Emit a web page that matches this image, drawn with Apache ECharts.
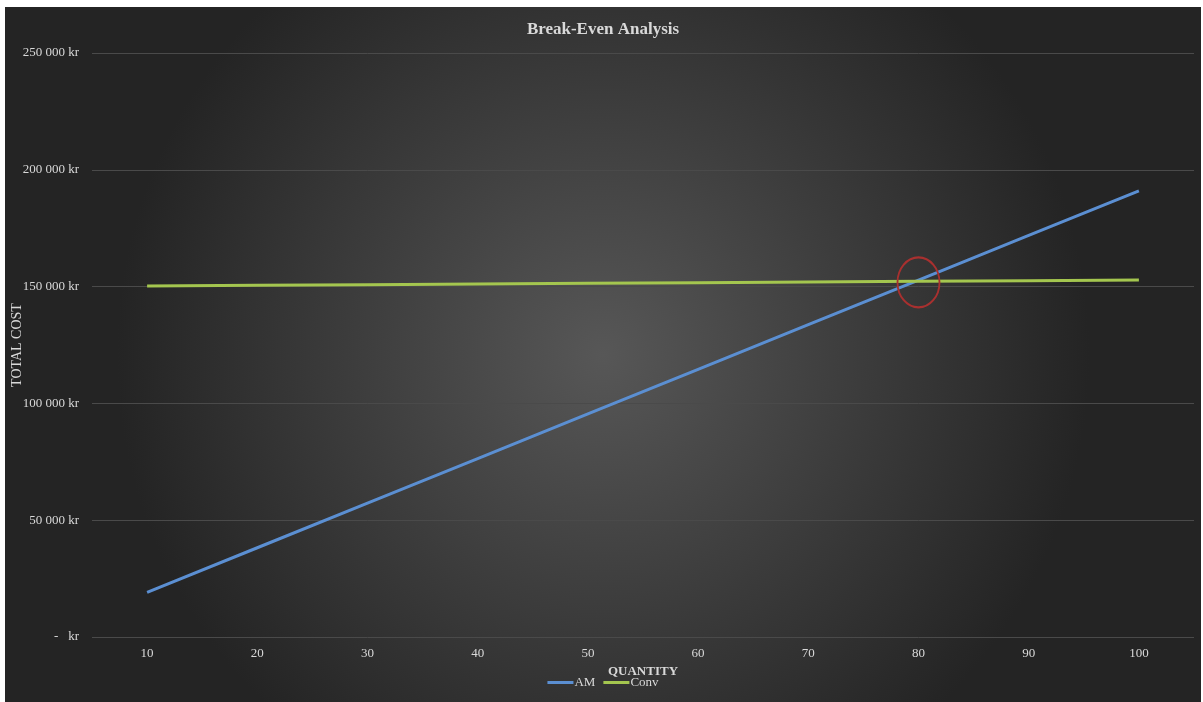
<!DOCTYPE html>
<html>
<head>
<meta charset="utf-8">
<style>
  html, body { margin: 0; padding: 0; background: #ffffff; }
  #chart-container { position: absolute; left: 5px; top: 7px; width: 1196px; height: 695px; }
</style>
</head>
<body>
<div id="chart-container"></div>
<script src="https://cdn.jsdelivr.net/npm/echarts@6/dist/echarts.min.js"></script>
<script>
// quantities on the x axis
var quantities = ['10', '20', '30', '40', '50', '60', '70', '80', '90', '100'];
// total cost, additive manufacturing
var amCost = [19100, 38200, 57300, 76400, 95500, 114600, 133700, 152800, 171900, 191000];
// total cost, conventional
var convCost = [150280, 150560, 150840, 151120, 151400, 151680, 151960, 152240, 152520, 152800];
// break-even mark
var breakEven = ['80', 151800];

var font = 'Liberation Serif';
var textColor = '#d9d9d9';

function krLabel(v) {
    if (v === 0) return '-   kr';
    return String(v).replace(/\B(?=(\d{3})+(?!\d))/g, ' ') + ' kr';
}

var dom = document.getElementById('chart-container');
var myChart = echarts.init(dom, null, { renderer: 'canvas' });

var option = {
    backgroundColor: {
        type: 'radial', x: 0.5, y: 0.5, r: 0.7,
        colorStops: [
            { offset: 0, color: '#575757' },
            { offset: 1, color: '#242424' }
        ]
    },
    animation: false,
    title: {
        text: 'Break-Even Analysis',
        left: 'center',
        top: 9,
        textStyle: { fontFamily: font, fontSize: 17, fontWeight: 'bold', color: textColor }
    },
    legend: {
        bottom: 8,
        left: 'center',
        itemWidth: 26,
        itemHeight: 3,
        itemGap: 8,
        icon: 'rect',
        textStyle: { fontFamily: font, fontSize: 13, color: textColor, padding: [0, 0, 0, -4] },
        data: ['AM', 'Conv']
    },
    grid: { left: 87, right: 7, top: 46, bottom: 65, containLabel: false, outerBoundsMode: 'none' },
    xAxis: {
        type: 'category',
        data: quantities,
        boundaryGap: true,
        name: 'QUANTITY',
        nameLocation: 'middle',
        nameGap: 28,
        nameMoveOverlap: false,
        nameTextStyle: { fontFamily: font, fontSize: 13, fontWeight: 'bold', color: textColor },
        axisLine: { show: false },
        axisTick: { show: false },
        axisLabel: { fontFamily: font, fontSize: 13, color: textColor, margin: 10 }
    },
    yAxis: {
        type: 'value',
        min: 0,
        max: 250000,
        interval: 50000,
        name: 'TOTAL COST',
        nameLocation: 'middle',
        nameGap: 68,
        nameMoveOverlap: false,
        nameTextStyle: { fontFamily: font, fontSize: 14, color: textColor },
        axisLine: { show: false },
        axisTick: { show: false },
        axisLabel: { fontFamily: font, fontSize: 13, color: textColor, margin: 13, formatter: krLabel },
        splitLine: { lineStyle: { color: '#4a4a4a', width: 1 } }
    },
    series: [
        {
            name: 'AM',
            type: 'line',
            data: amCost,
            symbol: 'none',
            lineStyle: { color: '#5b8fd2', width: 3 },
            itemStyle: { color: '#5b8fd2' },
            markPoint: {
                symbol: 'circle',
                symbolSize: [42, 50],
                silent: true,
                label: { show: false },
                itemStyle: { color: 'rgba(0,0,0,0)', borderColor: '#a8302f', borderWidth: 2 },
                data: [{ coord: breakEven }]
            }
        },
        {
            name: 'Conv',
            type: 'line',
            data: convCost,
            symbol: 'none',
            lineStyle: { color: '#a4c64f', width: 3 },
            itemStyle: { color: '#a4c64f' }
        }
    ]
};

myChart.setOption(option);
window.addEventListener('resize', myChart.resize);
</script>
</body>
</html>
